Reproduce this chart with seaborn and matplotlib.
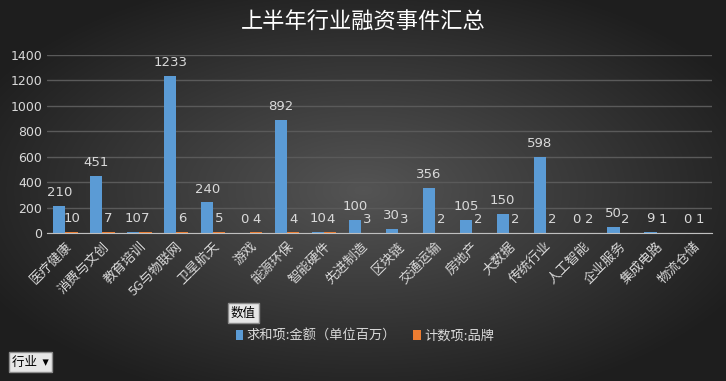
import numpy as np
import pandas as pd
import seaborn as sns
import matplotlib.pyplot as plt

# Data
industries = ["医疗健康", "消费与文创", "教育培训", "5G与物联网", "卫星航天", "游戏", "能源环保",
              "智能硬件", "先进制造", "区块链", "交通运输", "房地产", "大数据", "传统行业",
              "人工智能", "企业服务", "集成电路", "物流仓储"]
amounts = [210, 451, 10, 1233, 240, 0, 892, 10, 100, 30, 356, 105, 150, 598, 0, 50, 9, 0]
counts = [10, 7, 7, 6, 5, 4, 4, 4, 3, 3, 2, 2, 2, 2, 2, 2, 1, 1]
series_names = ["求和项:金额（单位百万）", "计数项:品牌"]

df = pd.DataFrame({"行业": industries * 2,
                   "值": amounts + counts,
                   "系列": [series_names[0]] * len(industries) + [series_names[1]] * len(industries)})

sns.set_style("dark")
plt.rcParams['font.family'] = ['Noto Sans CJK SC', 'DejaVu Sans']

fig = plt.figure(figsize=(7.26, 3.81), dpi=100)

# radial gradient background
bg = fig.add_axes([0, 0, 1, 1], zorder=-10)
yy, xx = np.mgrid[0:381, 0:726]
r = np.sqrt(((xx - 363) / 363.0) ** 2 + ((yy - 190) / 190.0) ** 2)
shade = np.clip(0.33 - 0.18 * r, 0.12, 0.33)
bg.imshow(np.dstack([shade] * 3), aspect="auto")
bg.axis("off")

ax = fig.add_axes([47 / 726, 148 / 381, 665 / 726, 178 / 381])
ax.set_facecolor("none")
sns.barplot(data=df, x="行业", y="值", hue="系列", palette=["#5b9bd5", "#ed7d31"],
            width=0.66, ax=ax, legend=True, saturation=1, linewidth=0)

for c in ax.containers:
    ax.bar_label(c, color="#d9d9d9", fontsize=9.5, padding=5, fontfamily="DejaVu Sans")

ax.set_ylim(0, 1400)
ax.set_yticks(range(0, 1401, 200))
ax.set_xlim(-0.5, len(industries) - 0.5)
ax.grid(axis="y", color="#5a5a5a", linewidth=1)
ax.grid(axis="x", visible=False)
ax.set_axisbelow(True)
for s in ["top", "right", "left"]:
    ax.spines[s].set_visible(False)
ax.spines["bottom"].set_color("#bfbfbf")
ax.set_xlabel("")
ax.set_ylabel("")
ax.tick_params(axis="y", colors="#d9d9d9", labelsize=9, length=0)
ax.set_xticks(range(len(industries)))
ax.set_xticklabels(industries, rotation=45, ha="right", rotation_mode="anchor",
                   color="#d9d9d9", fontsize=9.5)
ax.tick_params(axis="x", length=0, pad=5)
ax.set_xticks(np.arange(-0.5, len(industries)), minor=True)
ax.tick_params(axis="x", which="minor", length=4, color="#bfbfbf")
for t in ax.get_yticklabels():
    t.set_fontfamily("DejaVu Sans")

ax.legend(loc="center", bbox_to_anchor=(365 / 726, 1 - 336 / 381), bbox_transform=fig.transFigure,
          ncol=2, frameon=False, fontsize=9.5, labelcolor="#d9d9d9",
          handlelength=0.55, handleheight=0.8, handletextpad=0.25, columnspacing=1.3)

fig.text(0.5, 1 - 22 / 381, "上半年行业融资事件汇总", ha="center", va="center",
         color="white", fontsize=16)

btn = dict(boxstyle="square,pad=0.25", facecolor="#e6e6e6", edgecolor="#8c8c8c")
fig.text(231 / 726, 1 - 313 / 381, "数值", ha="left", va="center", fontsize=9, color="black", bbox=btn)
fig.text(12 / 726, 1 - 362 / 381, "行业  ▾", ha="left", va="center", fontsize=9, color="black", bbox=btn)

fig.savefig("out.png", dpi=100)
